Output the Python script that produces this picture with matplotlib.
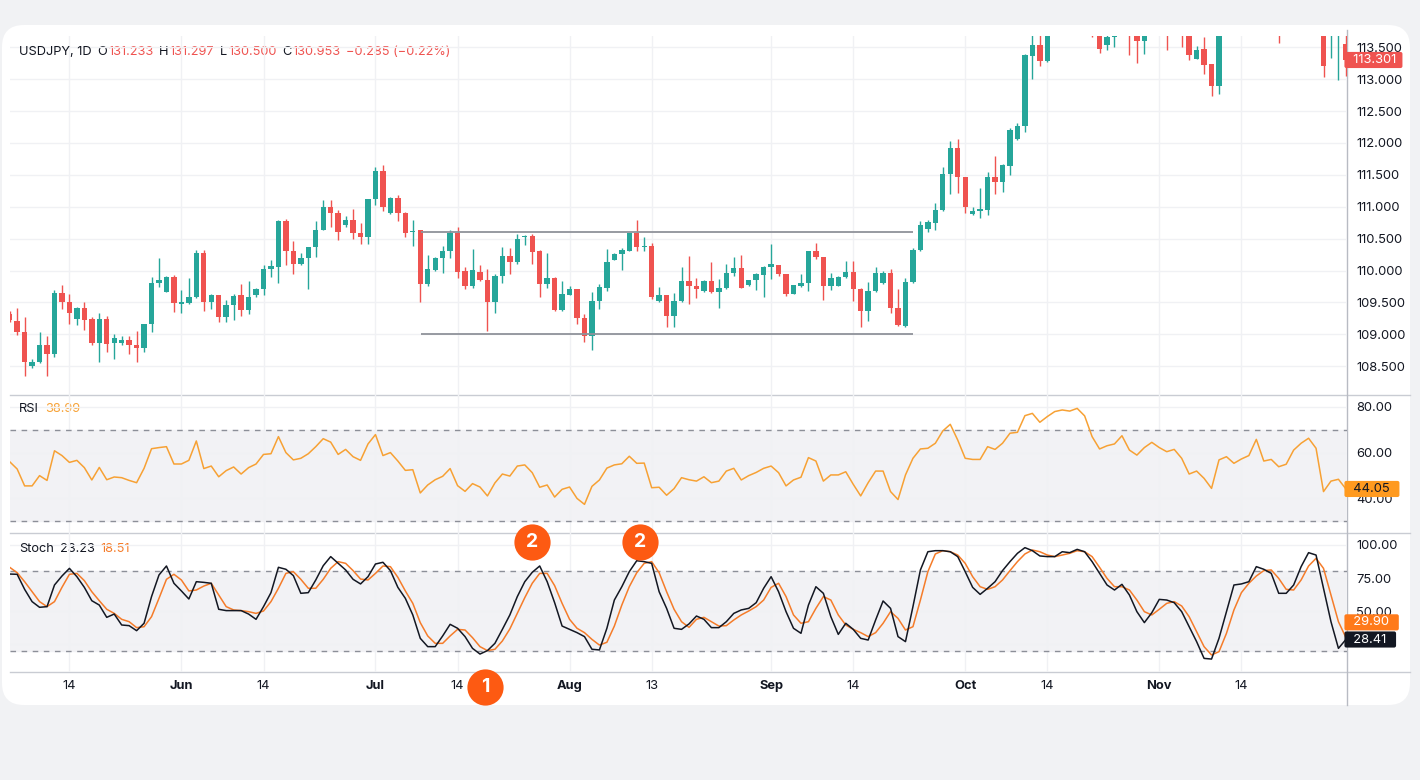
import numpy as np
import matplotlib.pyplot as plt
import matplotlib.transforms as mtransforms
from matplotlib.patches import FancyBboxPatch

plt.rcParams['font.family'] = ['Inter', 'DejaVu Sans']

# ---- data (daily bars, index 0 = first bar on the left) ----
opens = [109.32, 109.21, 109.04, 108.51, 108.56, 108.84, 108.70, 109.65, 109.51, 109.24,
         109.41, 109.24, 108.86, 109.24, 108.86, 108.87, 108.91, 108.83, 108.78, 109.16,
         109.80, 109.67, 109.90, 109.48, 109.49, 109.58, 110.28, 109.51, 109.61, 109.27,
         109.46, 109.61, 109.38, 109.61, 109.71, 110.03, 110.06, 110.77, 110.31, 110.10,
         110.19, 110.37, 110.64, 111.00, 110.91, 110.71, 110.80, 110.59, 110.52, 111.12,
         111.56, 110.91, 111.13, 110.91, 110.60, 110.63, 109.79, 110.01, 110.20, 110.31,
         110.59, 109.99, 109.76, 109.98, 109.86, 109.51, 109.92, 110.23, 110.13, 110.53,
         110.55, 110.30, 109.79, 109.89, 109.39, 109.62, 109.71, 109.26, 108.98, 109.52,
         109.73, 110.17, 110.26, 110.31, 110.59, 110.37, 110.39, 109.52, 109.62, 109.29,
         109.52, 109.84, 109.76, 109.68, 109.84, 109.66, 109.72, 109.96, 110.04, 109.77,
         109.85, 109.93, 110.06, 110.09, 109.94, 109.63, 109.76, 109.81, 110.30, 110.22,
         109.76, 109.76, 109.90, 109.98, 109.71, 109.37, 109.68, 109.81, 109.97, 109.42,
         109.13, 109.82, 110.32, 110.65, 110.75, 110.95, 111.51, 111.92, 111.46, 110.88,
         110.94, 110.95, 111.47, 111.39, 111.64, 112.06, 112.26, 113.37, 113.54, 113.29,
         113.85, 114.10, 114.30, 114.00, 114.20, 113.95, 113.90, 113.54, 113.66, 113.80,
         114.00, 113.90, 113.60, 113.80, 113.95, 114.10, 113.90, 114.00, 113.80, 113.31,
         113.47, 113.24, 112.90, 113.90, 114.10, 114.25, 114.30, 114.40, 114.50, 114.70,
         114.30, 113.90, 114.20, 114.50, 115.10, 115.30, 114.90, 113.75, 113.72, 113.55]
highs = [109.36, 109.41, 109.28, 108.61, 109.04, 108.98, 109.70, 109.77, 109.64, 109.43,
         109.50, 109.28, 109.33, 109.29, 109.00, 108.98, 108.98, 109.06, 109.17, 109.90,
         110.19, 109.92, 109.93, 109.70, 109.88, 110.32, 110.32, 109.63, 109.62, 109.54,
         109.64, 109.79, 109.83, 109.73, 110.09, 110.17, 110.79, 110.81, 110.47, 110.27,
         110.37, 110.78, 111.10, 111.10, 110.95, 110.86, 110.96, 110.75, 111.12, 111.63,
         111.66, 111.16, 111.18, 110.92, 110.80, 110.64, 110.24, 110.21, 110.39, 110.64,
         110.69, 110.06, 110.34, 110.09, 110.02, 109.94, 110.37, 110.36, 110.58, 110.56,
         110.57, 110.32, 110.27, 109.90, 109.83, 109.76, 109.71, 109.32, 109.67, 109.79,
         110.34, 110.28, 110.35, 110.59, 110.79, 110.53, 110.44, 109.74, 109.62, 109.65,
         110.06, 110.23, 109.88, 109.86, 110.14, 109.87, 110.11, 110.22, 110.25, 109.86,
         109.96, 110.07, 110.41, 110.09, 109.94, 109.77, 109.94, 110.31, 110.44, 110.22,
         109.97, 109.91, 110.15, 110.15, 109.72, 109.82, 110.06, 110.00, 110.02, 109.71,
         109.89, 110.35, 110.78, 110.79, 111.06, 111.63, 112.03, 112.07, 111.47, 111.00,
         111.29, 111.55, 111.79, 111.67, 112.23, 112.31, 113.40, 113.80, 113.85, 113.95,
         114.20, 114.40, 114.50, 114.30, 114.45, 114.10, 113.98, 113.90, 113.95, 114.20,
         114.15, 114.00, 113.85, 114.10, 114.30, 114.25, 114.20, 114.10, 113.90, 113.52,
         113.66, 113.24, 113.95, 114.20, 114.40, 114.50, 114.60, 114.70, 114.90, 115.10,
         114.50, 114.40, 114.60, 115.20, 115.50, 115.50, 115.00, 113.95, 113.90, 113.75]
lows = [109.20, 108.99, 108.34, 108.47, 108.55, 108.35, 108.65, 109.40, 109.16, 109.14,
        109.07, 108.83, 108.56, 108.73, 108.61, 108.84, 108.70, 108.56, 108.72, 109.03,
        109.75, 109.66, 109.35, 109.33, 109.48, 109.57, 109.37, 109.40, 109.19, 109.20,
        109.23, 109.29, 109.32, 109.58, 109.61, 109.90, 109.80, 110.08, 109.94, 110.09,
        109.71, 110.21, 110.64, 110.68, 110.48, 110.68, 110.49, 110.41, 110.41, 111.03,
        110.94, 110.88, 110.78, 110.52, 110.39, 109.50, 109.76, 109.99, 109.97, 110.19,
        109.89, 109.71, 109.73, 109.84, 109.06, 109.33, 109.80, 109.94, 110.10, 110.40,
        110.11, 109.58, 109.73, 109.37, 109.36, 109.61, 109.16, 108.88, 108.76, 109.40,
        109.68, 110.16, 110.01, 110.30, 110.30, 110.31, 109.55, 109.50, 109.11, 109.11,
        109.50, 109.48, 109.57, 109.67, 109.65, 109.41, 109.71, 109.92, 109.73, 109.76,
        109.69, 109.58, 109.87, 109.92, 109.60, 109.63, 109.75, 109.68, 110.18, 109.54,
        109.70, 109.76, 109.89, 109.53, 109.11, 109.21, 109.67, 109.79, 109.33, 109.13,
        109.11, 109.80, 110.30, 110.60, 110.64, 110.93, 111.20, 111.22, 110.90, 110.87,
        110.82, 110.87, 111.20, 111.23, 111.50, 112.05, 112.18, 113.00, 113.21, 113.27,
        113.75, 113.90, 113.95, 113.80, 113.85, 113.66, 113.41, 113.46, 113.51, 113.75,
        113.38, 113.25, 113.39, 113.72, 113.80, 113.45, 113.75, 113.50, 113.30, 113.31,
        113.08, 112.73, 112.77, 113.80, 113.95, 114.00, 114.10, 114.20, 114.30, 114.40,
        113.57, 113.75, 114.00, 114.30, 114.80, 114.50, 113.04, 113.33, 112.99, 113.05]
closes = [109.22, 109.04, 108.57, 108.57, 108.83, 108.70, 109.65, 109.50, 109.33, 109.41,
          109.23, 108.86, 109.24, 108.85, 108.95, 108.91, 108.84, 108.78, 109.16, 109.80,
          109.85, 109.90, 109.49, 109.50, 109.59, 110.28, 109.51, 109.61, 109.27, 109.46,
          109.60, 109.38, 109.59, 109.71, 110.03, 110.07, 110.77, 110.31, 110.11, 110.19,
          110.37, 110.64, 111.00, 110.91, 110.61, 110.80, 110.59, 110.52, 111.12, 111.56,
          110.99, 111.13, 110.91, 110.59, 110.62, 109.79, 110.03, 110.20, 110.31, 110.59,
          109.98, 109.76, 110.01, 109.86, 109.51, 109.92, 110.23, 110.13, 110.50, 110.55,
          110.29, 109.79, 109.88, 109.39, 109.63, 109.71, 109.25, 108.98, 109.52, 109.75,
          110.14, 110.26, 110.32, 110.59, 110.37, 110.39, 109.59, 109.62, 109.29, 109.52,
          109.84, 109.76, 109.71, 109.83, 109.66, 109.72, 109.97, 110.04, 109.73, 109.85,
          109.94, 110.06, 110.10, 109.94, 109.63, 109.77, 109.81, 110.30, 110.22, 109.76,
          109.89, 109.90, 109.98, 109.71, 109.37, 109.68, 109.96, 109.97, 109.42, 109.15,
          109.82, 110.32, 110.71, 110.76, 110.95, 111.51, 111.92, 111.46, 110.99, 110.93,
          110.96, 111.47, 111.39, 111.66, 112.21, 112.26, 113.38, 113.54, 113.29, 113.85,
          114.10, 114.30, 114.00, 114.20, 113.95, 113.85, 113.48, 113.66, 113.75, 114.05,
          113.75, 113.60, 113.75, 113.95, 114.20, 113.80, 114.00, 113.85, 113.38, 113.46,
          113.23, 112.90, 113.90, 114.10, 114.25, 114.30, 114.40, 114.50, 114.70, 114.90,
          113.90, 114.20, 114.50, 115.10, 115.30, 115.00, 113.20, 113.85, 113.80, 113.301]

rsi = [56.0, 52.8, 45.4, 45.4, 49.9, 47.8, 60.8, 58.7, 55.7, 56.6,
       53.4, 48.0, 53.5, 48.1, 49.3, 49.0, 47.8, 46.8, 53.1, 61.7,
       62.2, 62.6, 55.0, 55.0, 56.6, 65.1, 53.0, 54.1, 49.4, 52.1,
       53.7, 50.6, 53.4, 55.0, 59.2, 59.5, 67.0, 60.0, 56.8, 57.5,
       59.5, 62.6, 66.1, 64.6, 59.2, 61.4, 58.2, 56.6, 63.8, 67.9,
       58.7, 60.0, 56.3, 52.2, 52.5, 42.3, 45.8, 48.1, 49.6, 53.0,
       45.5, 43.0, 46.4, 44.9, 41.0, 46.7, 50.6, 49.7, 54.1, 54.6,
       51.2, 44.8, 45.8, 40.5, 43.9, 44.9, 39.9, 37.3, 45.2, 48.0,
       53.2, 54.6, 55.1, 58.4, 55.3, 55.4, 44.6, 44.8, 41.3, 44.2,
       49.0, 48.1, 47.5, 49.4, 46.8, 47.5, 51.9, 53.1, 48.0, 49.9,
       51.3, 53.1, 54.1, 51.2, 45.4, 48.0, 49.2, 57.8, 56.3, 47.5,
       50.2, 50.2, 51.6, 46.1, 41.0, 46.8, 51.9, 51.9, 42.9, 39.4,
       50.2, 57.5, 61.6, 61.9, 64.1, 69.5, 72.4, 65.5, 57.5, 57.0,
       57.0, 62.6, 61.4, 64.1, 68.5, 68.9, 76.2, 77.2, 73.3, 75.8,
       78.0, 78.7, 78.2, 79.4, 76.1, 67.0, 61.6, 63.0, 63.8, 67.4,
       61.1, 58.9, 62.2, 64.5, 62.2, 60.4, 61.4, 57.5, 50.6, 51.9,
       48.7, 44.3, 56.8, 58.2, 55.3, 57.2, 58.7, 65.8, 56.3, 57.0,
       53.8, 54.9, 61.1, 64.1, 66.3, 61.9, 42.9, 47.5, 48.3, 44.05]

stoch_k = [78.0, 77.8, 66.4, 57.1, 52.8, 53.3, 69.7, 76.5, 82.3, 76.0,
           67.9, 57.8, 54.5, 45.2, 47.7, 39.4, 38.9, 35.1, 40.7, 60.9,
           77.3, 84.1, 71.0, 65.2, 59.1, 72.2, 71.7, 71.0, 51.3, 50.3,
           50.3, 50.3, 47.7, 43.7, 53.3, 63.9, 83.1, 81.6, 76.8, 63.4,
           63.9, 73.5, 84.3, 91.2, 86.1, 81.1, 74.0, 70.5, 76.0, 85.6,
           86.9, 80.6, 67.9, 59.6, 47.0, 29.3, 23.0, 23.0, 31.1, 39.9,
           36.9, 30.6, 21.7, 17.4, 20.0, 25.5, 36.1, 47.0, 60.9, 72.2,
           79.3, 84.1, 72.2, 56.3, 38.6, 36.1, 33.6, 30.6, 21.0, 20.5,
           36.9, 58.3, 68.4, 79.8, 88.1, 87.4, 86.1, 64.6, 52.0, 36.9,
           36.1, 40.2, 46.2, 43.7, 37.4, 37.4, 41.9, 48.2, 50.8, 52.0,
           56.3, 67.2, 76.0, 64.6, 49.5, 36.9, 33.1, 54.5, 68.4, 63.4,
           45.7, 32.3, 40.7, 36.1, 29.3, 28.0, 43.2, 57.6, 52.0, 30.6,
           26.8, 53.3, 81.1, 94.9, 95.7, 95.7, 94.9, 91.2, 79.8, 67.9,
           62.6, 67.2, 72.2, 80.6, 87.4, 93.7, 98.0, 95.7, 91.7, 91.2,
           91.2, 94.9, 94.2, 96.7, 94.9, 87.4, 78.5, 69.7, 65.9, 70.2,
           62.1, 49.5, 41.2, 48.7, 58.8, 58.3, 56.3, 49.5, 38.1, 26.8,
           14.1, 13.6, 29.3, 49.5, 69.7, 70.5, 72.2, 83.6, 81.6, 78.5,
           63.4, 63.4, 69.7, 83.6, 94.2, 92.4, 67.2, 41.9, 21.7, 28.41]

stoch_d = [83.1, 79.0, 72.2, 64.6, 57.1, 53.3, 57.1, 67.9, 77.8, 78.5,
           73.0, 64.6, 57.8, 51.3, 48.2, 43.7, 41.9, 37.4, 38.1, 45.7,
           59.6, 74.0, 77.8, 73.5, 65.2, 65.9, 68.9, 71.0, 62.1, 53.3,
           50.8, 50.3, 49.5, 48.2, 50.0, 57.1, 67.2, 78.5, 79.8, 74.0,
           67.2, 67.2, 74.0, 82.3, 87.4, 86.1, 80.6, 74.2, 73.5, 78.5,
           84.1, 83.6, 75.5, 65.2, 55.8, 41.2, 31.1, 25.5, 25.5, 31.1,
           36.1, 35.6, 29.8, 23.0, 20.0, 21.0, 27.3, 36.4, 48.2, 60.1,
           71.0, 78.5, 78.5, 69.2, 55.8, 43.7, 36.9, 33.6, 28.5, 24.2,
           26.3, 38.6, 54.5, 68.4, 79.0, 86.1, 87.4, 79.0, 64.6, 51.3,
           41.9, 37.6, 43.7, 45.2, 41.9, 38.6, 38.9, 43.2, 47.0, 50.0,
           53.3, 58.3, 67.9, 71.0, 60.9, 47.0, 40.7, 41.9, 52.0, 60.9,
           58.3, 47.0, 39.4, 36.1, 33.6, 30.6, 33.6, 40.7, 49.5, 44.4,
           35.6, 38.1, 58.3, 79.8, 93.2, 95.7, 94.9, 92.4, 86.1, 76.0,
           68.4, 66.4, 68.4, 73.5, 80.6, 87.4, 93.2, 96.2, 94.9, 92.4,
           91.2, 92.4, 93.7, 95.7, 94.9, 91.2, 83.1, 74.7, 68.4, 68.4,
           65.9, 58.3, 49.5, 47.0, 51.3, 55.8, 57.1, 53.8, 45.7, 34.3,
           23.0, 16.7, 19.2, 33.1, 50.8, 63.9, 71.0, 76.5, 80.6, 81.1,
           74.7, 66.4, 65.9, 73.5, 84.1, 89.9, 82.3, 62.1, 41.9, 29.90]

tick_idx = [8, 23, 34, 49, 60, 75, 86, 102, 113, 128, 139, 154, 165]
tick_labels = ['14', 'Jun', '14', 'Jul', '14', 'Aug', '13', 'Sep', '14', 'Oct', '14', 'Nov', '14']
month_labels = {'Jun', 'Jul', 'Aug', 'Sep', 'Oct', 'Nov'}

range_top, range_bottom = 110.60, 109.00
range_from, range_to = 55.1, 121.0

# numbered callouts: (bar position, label)
callouts_top = [(70.0, '2'), (84.4, '2')]
callouts_bottom = [(63.7, '1')]

# ---- colours ----
UP, DOWN = '#26a69a', '#ef5350'
TXT = '#131722'
GRID = '#f0f1f4'
RSI_C = '#f7a134'
K_C, D_C = '#131722', '#f57c2a'
BAND = '#f2f2f5'
DASH = '#8c8f98'
CALLOUT = '#fd5a12'

W, H = 1420, 780
fig = plt.figure(figsize=(W / 100, H / 100), dpi=100)
fig.patch.set_facecolor('#f1f2f4')

bg = fig.add_axes([0, 0, 1, 1], zorder=0)
bg.set_xlim(0, W)
bg.set_ylim(H, 0)
bg.axis('off')
bg.add_patch(FancyBboxPatch((2, 25), 1408, 680, boxstyle='round,pad=0,rounding_size=22',
                            fc='white', ec='none'))
for yy in (395, 533, 672):
    bg.plot([10, 1410], [yy, yy], color='#c9ccd3', lw=1)
bg.plot([1346.5, 1346.5], [30, 705], color='#b8bbc3', lw=1)


def px_axes(l, t, r, b):
    ax = fig.add_axes([l / W, 1 - b / H, (r - l) / W, (b - t) / H], zorder=2)
    ax.set_facecolor('none')
    for s in ax.spines.values():
        s.set_visible(False)
    ax.set_xlim(0.04, 179.08)
    ax.set_xticks(tick_idx)
    ax.grid(True, color=GRID, lw=1)
    ax.set_axisbelow(True)
    ax.yaxis.tick_right()
    ax.tick_params(axis='y', length=0, pad=7, labelsize=9.3, labelcolor=TXT)
    ax.tick_params(axis='x', length=0, labelbottom=False)
    return ax


def value_tag(axis, yval, text, face, fg):
    tr = mtransforms.blended_transform_factory(axis.transAxes, axis.transData)
    axis.text(1.0, yval, text, transform=tr, ha='left', va='center', fontsize=9.3,
              color=fg, zorder=10, clip_on=False,
              bbox=dict(boxstyle='round,pad=0.16,rounding_size=0.15', fc=face, ec='none'))


x = np.arange(len(opens))
o = np.array(opens)
c = np.array(closes)
hi = np.array(highs)
lo = np.array(lows)
cols = np.where(c >= o, UP, DOWN)

# ---- price pane ----
ax = px_axes(10, 36, 1346.5, 395)
ax.set_ylim(108.05, 113.677)
ax.set_yticks(np.arange(108.5, 113.51, 0.5))
ax.set_yticklabels(['%.3f' % v for v in np.arange(108.5, 113.51, 0.5)])
ax.vlines(x, lo, hi, colors=cols, lw=1, zorder=3)
ax.bar(x, np.maximum(np.abs(c - o), 0.014), bottom=np.minimum(o, c), width=0.72,
       color=cols, zorder=4)
ax.hlines([range_top, range_bottom], range_from, range_to, colors='#8f929a', lw=1.3, zorder=5)
value_tag(ax, closes[-1], '  %.3f ' % closes[-1], DOWN, 'white')

# ---- RSI pane ----
ar = px_axes(10, 395, 1346.5, 533)
ar.set_ylim(24.74, 85.26)
ar.set_yticks([40, 60, 80])
ar.set_yticklabels(['40.00', '60.00', '80.00'])
ar.axhspan(30, 70, color=BAND, zorder=0)
for lv in (30, 70):
    ar.axhline(lv, color=DASH, lw=1, ls=(0, (4, 4)), zorder=1)
ar.plot(x, rsi, color=RSI_C, lw=1.1, zorder=3)
value_tag(ar, rsi[-1], '  %.2f  ' % rsi[-1], '#ff9a1f', TXT)

# ---- Stoch pane ----
ast = px_axes(10, 533, 1346.5, 672)
ast.set_ylim(3.79, 109.09)
ast.set_yticks([25, 50, 75, 100])
# the 25.00 label sits under the %K value tag in the reference
ast.set_yticklabels(['', '50.00', '75.00', '100.00'])
ast.axhspan(20, 80, color=BAND, zorder=0)
for lv in (20, 80):
    ast.axhline(lv, color=DASH, lw=1, ls=(0, (4, 4)), zorder=1)
ast.plot(x, stoch_d, color=D_C, lw=1.1, zorder=3)
ast.plot(x, stoch_k, color=K_C, lw=1.1, zorder=4)
value_tag(ast, stoch_k[-1], '  %.2f  ' % stoch_k[-1], '#131722', 'white')
# %D tag sits stacked just above the %K tag, as in the reference
value_tag(ast, stoch_k[-1] + 13.0, '  %.2f  ' % stoch_d[-1], '#ff7a1a', 'white')

ast.tick_params(axis='x', labelbottom=True, pad=6, labelsize=9.3, labelcolor=TXT)
ast.set_xticklabels(tick_labels)
for lab in ast.get_xticklabels():
    if lab.get_text() in month_labels:
        lab.set_fontweight('bold')


# ---- header texts ----
def rich(xp, yp, parts, size=9.2):
    t = fig.text(xp / W, 1 - yp / H, parts[0][0], color=parts[0][1], fontsize=size,
                 va='center', ha='left', zorder=20)
    for s, col, gap in parts[1:]:
        t = bg.annotate(s, xy=(1, 0), xycoords=t, xytext=(gap, 0), textcoords='offset points',
                        color=col, fontsize=size, va='bottom', ha='left', zorder=20)
    return t


rich(19, 52, [('USDJPY, 1D', TXT, 0), ('O', TXT, 4.2), ('131.233', DOWN, 0.6),
              ('H', TXT, 4.2), ('131.297', DOWN, 0.6), ('L', TXT, 4.2), ('130.500', DOWN, 0.6),
              ('C', TXT, 4.2), ('130.953', DOWN, 0.6), ('\u22120.285 (\u22120.22%)', DOWN, 4.2)])
rich(19, 409, [('RSI', TXT, 0), ('38.99', RSI_C, 4.2)])
rich(19, 549, [('Stoch', TXT, 0), ('23.23', TXT, 4.2), ('18.51', D_C, 4.2)])

# ---- numbered callouts ----
top_tr = mtransforms.blended_transform_factory(ast.transData, fig.transFigure)
for pos, lab in callouts_top:
    ast.scatter([pos], [1 - 542 / H], s=680, color=CALLOUT, transform=top_tr, clip_on=False,
                zorder=30, linewidths=0)
    ast.text(pos, 1 - 542 / H, lab, transform=top_tr, ha='center', va='center', color='white',
             fontsize=14, fontweight='bold', zorder=31, clip_on=False)
for pos, lab in callouts_bottom:
    ast.scatter([pos], [1 - 687 / H], s=680, color=CALLOUT, transform=top_tr, clip_on=False,
                zorder=30, linewidths=0)
    ast.text(pos, 1 - 687 / H, lab, transform=top_tr, ha='center', va='center', color='white',
             fontsize=14, fontweight='bold', zorder=31, clip_on=False)

fig.savefig('out.png', dpi=100, facecolor=fig.get_facecolor())
